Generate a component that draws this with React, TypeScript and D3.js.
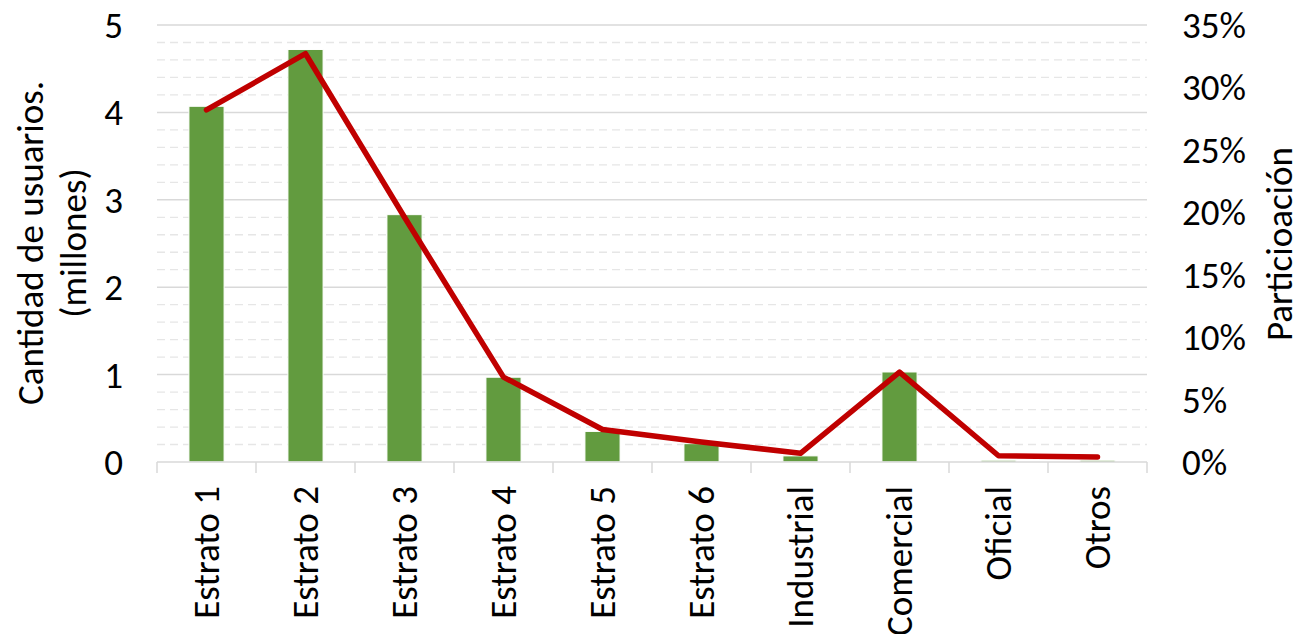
import React from "react";
import * as d3 from "d3";

const categories = ["Estrato 1", "Estrato 2", "Estrato 3", "Estrato 4", "Estrato 5", "Estrato 6", "Industrial", "Comercial", "Oficial", "Otros"];
const usuarios = [4.07, 4.72, 2.83, 0.97, 0.35, 0.21, 0.07, 1.03, 0.02, 0.02];
const participacion = [0.282, 0.327, 0.196, 0.068, 0.026, 0.016, 0.007, 0.072, 0.005, 0.004];
const leftTicks = [0, 1, 2, 3, 4, 5];
const rightTicks = [0, 0.05, 0.1, 0.15, 0.2, 0.25, 0.3, 0.35];
const minorTicks = d3.range(0, 5.0001, 0.2).filter((v) => Math.abs(v - Math.round(v)) > 1e-6);

const W = 1301;
const H = 634;
const m = { left: 157, right: 1147, top: 25, bottom: 462 };
const font = "Carlito, Calibri, 'Open Sans', 'Liberation Sans', sans-serif";
const fs = 37;

export default function App() {
  const x = d3.scaleBand<string>().domain(categories).range([m.left, m.right]).paddingInner(0).paddingOuter(0);
  const y = d3.scaleLinear().domain([0, 5]).range([m.bottom, m.top]);
  const y2 = d3.scaleLinear().domain([0, 0.35]).range([m.bottom, m.top]);
  const bw = x.bandwidth() * 0.355;
  const line = d3
    .line<number>()
    .x((_, i) => (x(categories[i]) as number) + x.bandwidth() / 2)
    .y((d) => y2(d));

  return (
    <svg width={W} height={H} style={{ position: "absolute", left: 0, top: 0 }} fontFamily={font}>
      <rect width={W} height={H} fill="#fff" />
      {minorTicks.map((t) => (
        <line key={"mi" + t} x1={m.left} x2={m.right} y1={y(t)} y2={y(t)} stroke="#e6e6e6" strokeWidth={1.3} strokeDasharray="8,5" />
      ))}
      {leftTicks.filter((t) => t > 0).map((t) => (
        <line key={"ma" + t} x1={m.left} x2={m.right} y1={y(t)} y2={y(t)} stroke="#d9d9d9" strokeWidth={1.5} />
      ))}
      {categories.map((c, i) => (
        <rect
          key={c}
          x={(x(c) as number) + x.bandwidth() / 2 - bw / 2}
          y={y(usuarios[i])}
          width={bw}
          height={y(0) - y(usuarios[i])}
          fill="#629b3f"
          stroke="#ffffff"
          strokeWidth={1}
        />
      ))}
      <line x1={m.left} x2={m.right} y1={m.bottom} y2={m.bottom} stroke="#d9d9d9" strokeWidth={1.5} />
      {d3.range(categories.length + 1).map((i) => {
        const xx = m.left + i * x.bandwidth();
        return <line key={"tk" + i} x1={xx} x2={xx} y1={m.bottom} y2={m.bottom + 11} stroke="#d9d9d9" strokeWidth={1.5} />;
      })}
      <path d={line(participacion) || ""} fill="none" stroke="#c00000" strokeWidth={5.5} strokeLinejoin="round" strokeLinecap="round" />
      {leftTicks.map((t) => (
        <text key={"lt" + t} x={123} y={y(t)} dy="0.35em" textAnchor="end" fontSize={fs} fill="#000">
          {t}
        </text>
      ))}
      {rightTicks.map((t) => (
        <text key={"rt" + t} x={1182} y={y2(t)} dy="0.35em" textAnchor="start" fontSize={fs} fill="#000">
          {d3.format(".0%")(t)}
        </text>
      ))}
      {categories.map((c) => {
        const cx = (x(c) as number) + x.bandwidth() / 2;
        return (
          <text key={"xl" + c} transform={`translate(${cx},${486}) rotate(-90)`} textAnchor="end" dy="0.35em" fontSize={fs} fill="#000">
            {c}
          </text>
        );
      })}
      <text transform={`translate(30,243) rotate(-90)`} textAnchor="middle" dy="0.35em" fontSize={fs} fill="#000">
        Cantidad de usuarios.
      </text>
      <text transform={`translate(73,243) rotate(-90)`} textAnchor="middle" dy="0.35em" fontSize={fs} fill="#000">
        (millones)
      </text>
      <text transform={`translate(1279,244) rotate(-90)`} textAnchor="middle" dy="0.35em" fontSize={fs} fill="#000">
        Particioación
      </text>
    </svg>
  );
}
